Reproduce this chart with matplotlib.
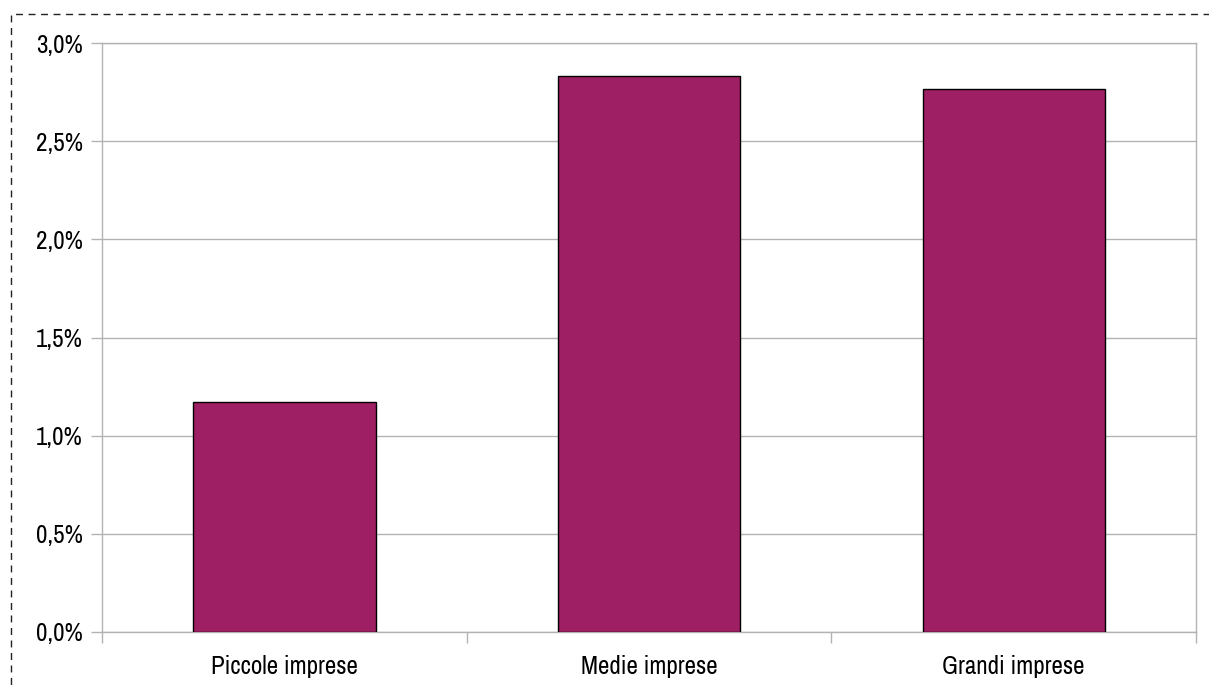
import matplotlib
matplotlib.use("Agg")
import matplotlib.pyplot as plt
from matplotlib.patches import Rectangle
from matplotlib.ticker import FuncFormatter, FixedLocator
from matplotlib import font_manager

categories = ["Piccole imprese", "Medie imprese", "Grandi imprese"]
values = [1.17, 2.83, 2.765]
y_ticks = [0.0, 0.5, 1.0, 1.5, 2.0, 2.5, 3.0]

available = {f.name for f in font_manager.fontManager.ttflist}
candidates = ["Liberation Sans Narrow", "Arial Narrow", "Archivo Narrow", "PT Sans Narrow",
              "Roboto Condensed", "Liberation Sans"]
first = [c for c in candidates if c in available][0]
plt.rcParams['font.family'] = [first, "DejaVu Sans"]

W, H = 1209, 686
PX = 0.72  # points per pixel at dpi 100
fig = plt.figure(figsize=(W / 100, H / 100), dpi=100)
ax = fig.add_axes([102 / W, 1 - 632 / H, 1094 / W, 589 / H])

x = list(range(len(categories)))
ax.bar(x, values, width=0.5, color="#9E1F63", edgecolor="black", linewidth=1.0, zorder=3)
ax.set_xlim(-0.5, len(categories) - 0.5)
ax.set_ylim(0, 3.0)
ax.yaxis.set_major_locator(FixedLocator(y_ticks))
ax.yaxis.set_major_formatter(FuncFormatter(lambda v, p: f"{v:.1f}%".replace(".", ",")))
ax.set_xticks(x)
ax.set_xticklabels(categories)
ax.set_xticks([i - 0.5 for i in range(len(categories) + 1)], minor=True)
ax.grid(axis="y", color="#b3b3b3", linewidth=1.0, zorder=0)
for s in ax.spines.values():
    s.set_color("#b3b3b3")
    s.set_linewidth(1.0)
fs = 18 if first != "Liberation Sans" else 15
ax.tick_params(axis="x", which="major", length=0, pad=23 * PX, labelsize=fs)
ax.tick_params(axis="x", which="minor", length=11 * PX, color="#b3b3b3", width=1.0)
ax.tick_params(axis="y", length=11 * PX, color="#b3b3b3", width=1.0, labelsize=fs, pad=8 * PX)

rect = Rectangle((11 / W, -0.05), 1.1, 1 - 14 / H + 0.05, transform=fig.transFigure,
                 fill=False, edgecolor="#222222", linestyle=(0, (5, 4)), linewidth=1.0)
fig.patches.append(rect)

fig.savefig("out.png", dpi=100)
